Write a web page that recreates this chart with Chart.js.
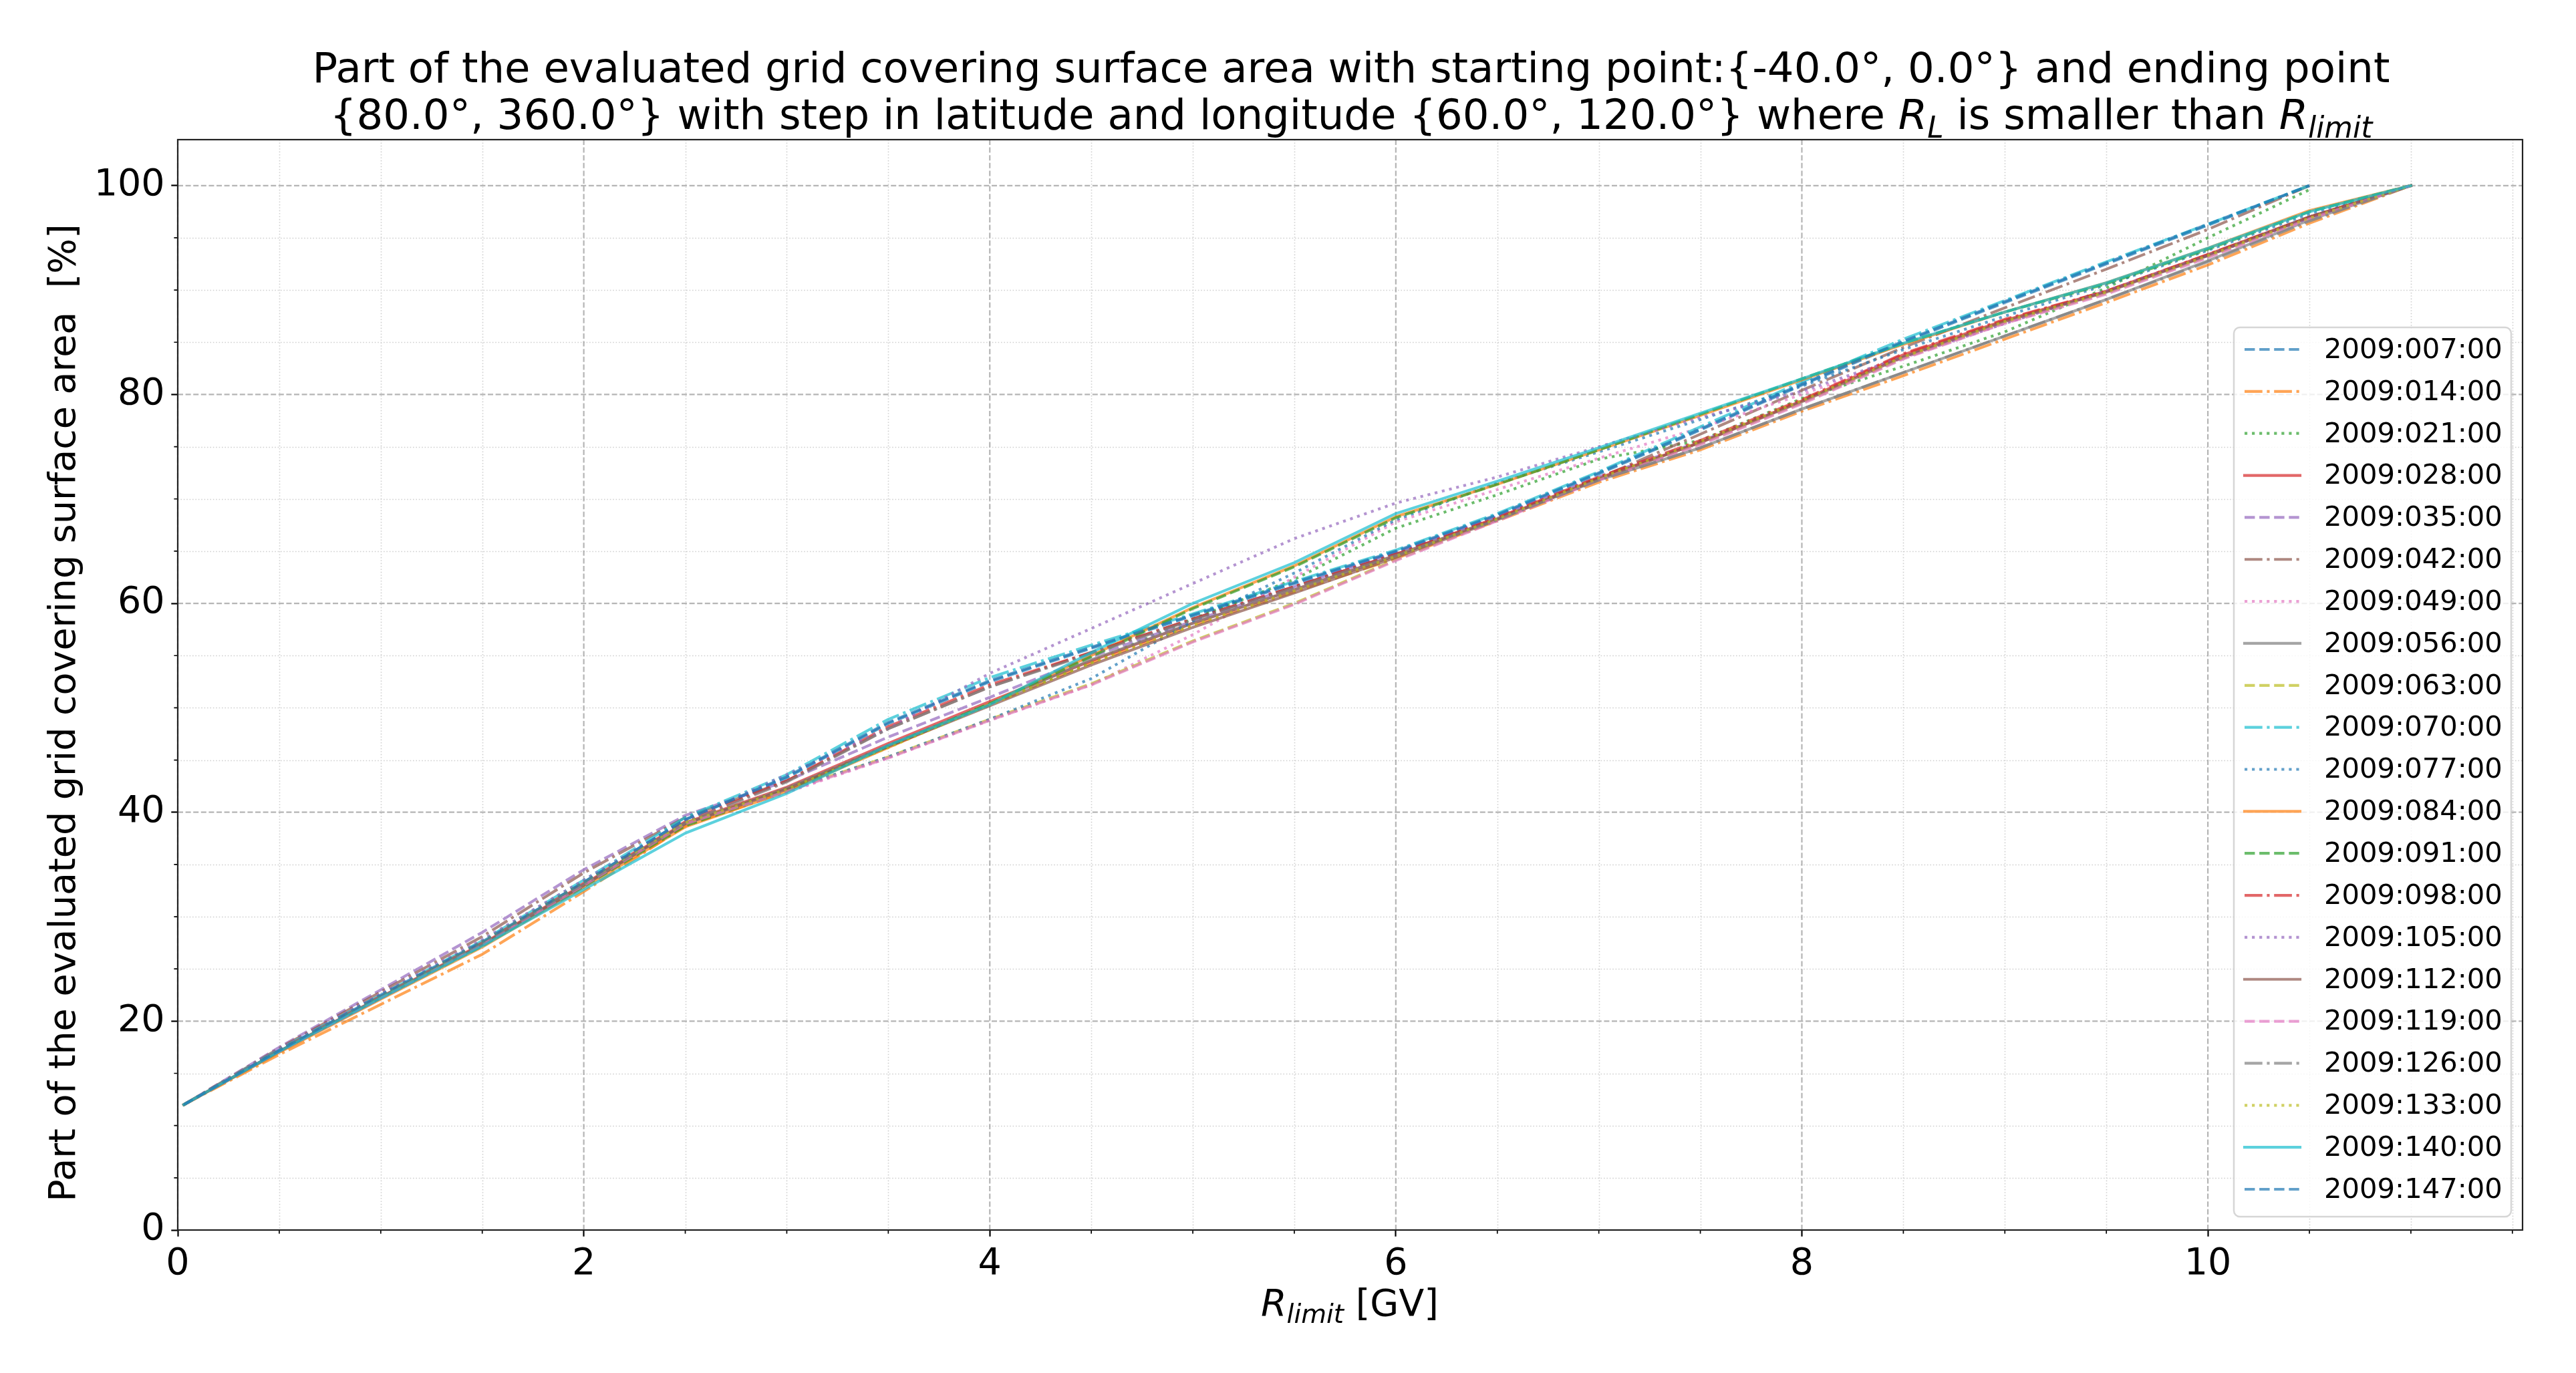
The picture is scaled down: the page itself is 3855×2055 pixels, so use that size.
<!DOCTYPE html>
<html>
<head>
<meta charset="utf-8">
<script src="https://cdn.jsdelivr.net/npm/chart.js@4.4.1/dist/chart.umd.min.js"></script>
<style>
  html, body { margin: 0; padding: 0; background: #fff; overflow: hidden; }
  #wrap { width: 3855px; height: 2055px; }
</style>
</head>
<body>
<div id="wrap"><canvas id="chart" width="3855" height="2055"></canvas></div>
<script>
"use strict";

// R_limit [GV], shared by all series
var rLimit = [0.03, 0.5, 1, 1.5, 2, 2.5, 3, 3.5, 4, 4.5, 5, 5.5, 6, 6.5, 7, 7.5, 8, 8.5, 9, 9.5, 10, 10.5, 11];

var seriesNames = ["2009:007:00", "2009:014:00", "2009:021:00", "2009:028:00", "2009:035:00", "2009:042:00",
    "2009:049:00", "2009:056:00", "2009:063:00", "2009:070:00", "2009:077:00", "2009:084:00", "2009:091:00",
    "2009:098:00", "2009:105:00", "2009:112:00", "2009:119:00", "2009:126:00", "2009:133:00", "2009:140:00",
    "2009:147:00"];

// percent of grid area
var s007 = [12.0, 17.2, 22.4, 27.5, 33.3, 39.3, 43.3, 48.5, 52.5, 55.7, 58.8, 61.9, 64.9, 68.4, 72.4, 76.6, 80.9, 85.0, 88.8, 92.5, 96.2, 100, null];
var s014 = [12.0, 16.8, 21.6, 26.4, 32.4, 38.7, 42.0, 46.3, 50.3, 54.3, 57.9, 61.1, 64.3, 67.9, 71.6, 74.7, 78.4, 81.8, 85.3, 88.8, 92.4, 96.4, 100];
var s021 = [12.0, 17.1, 22.3, 27.4, 33.1, 39.0, 42.3, 46.4, 50.4, 54.4, 58.5, 62.3, 67.2, 70.4, 73.8, 75.6, 79.6, 82.7, 86.0, 90.2, 95.0, 99.6, null];
var s028 = [12.0, 17.1, 22.3, 27.4, 33.1, 39.0, 42.4, 46.6, 50.6, 54.5, 58.1, 61.3, 64.6, 68.1, 72.0, 75.4, 79.4, 83.8, 87.1, 89.9, 93.4, 97.0, 100];
var s035 = [12.0, 17.5, 23.0, 28.5, 34.5, 39.7, 43.0, 47.2, 51.0, 54.9, 58.3, 61.6, 64.9, 68.3, 72.1, 75.5, 79.3, 83.5, 86.9, 89.8, 93.3, 97.0, 100];
var s042 = [12.0, 17.4, 22.8, 28.1, 34.2, 39.5, 43.0, 48.0, 52.0, 55.3, 58.5, 61.6, 64.7, 68.1, 72.0, 76.2, 80.4, 84.5, 88.3, 92.0, 95.8, 100, null];
var s049 = [12.0, 17.2, 22.3, 27.4, 33.0, 38.9, 41.9, 45.2, 48.8, 52.2, 57.0, 62.5, 67.8, 70.9, 73.9, 76.8, 80.0, 83.5, 86.8, 89.9, 93.3, 96.9, 100];
var s056 = [12.0, 17.1, 22.3, 27.3, 33.0, 38.9, 42.3, 46.4, 50.4, 54.6, 58.1, 61.3, 64.6, 68.1, 71.8, 74.9, 78.6, 82.1, 85.6, 89.1, 92.8, 96.7, 100];
var s063 = [12.0, 17.1, 22.3, 27.5, 33.2, 39.0, 42.1, 45.3, 48.9, 52.3, 56.4, 60.0, 64.2, 68.0, 71.9, 75.3, 79.2, 83.5, 86.9, 89.7, 93.2, 96.9, 100];
var s070 = [12.0, 17.3, 22.5, 27.7, 33.5, 39.5, 43.6, 48.9, 52.9, 56.0, 59.0, 62.1, 65.1, 68.6, 72.6, 76.9, 81.2, 85.3, 89.0, 92.7, 96.3, 100, null];
var s077 = [12.0, 17.2, 22.4, 27.5, 33.1, 39.0, 42.1, 45.3, 48.9, 52.8, 58.3, 62.9, 68.0, 71.5, 74.5, 77.6, 80.8, 84.3, 87.5, 90.5, 93.8, 97.3, 100];
var s084 = [12.0, 17.0, 22.1, 27.1, 32.8, 38.6, 42.0, 46.2, 50.4, 55.0, 59.6, 63.6, 68.3, 71.4, 74.7, 78.0, 81.4, 84.8, 87.9, 90.7, 94.0, 97.6, 100];
var s091 = [12.0, 17.1, 22.2, 27.2, 32.9, 38.7, 42.1, 46.3, 50.4, 54.9, 59.5, 63.5, 68.2, 71.4, 74.7, 78.1, 81.5, 84.9, 87.9, 90.6, 93.9, 97.5, 100];
var s098 = [12.0, 17.2, 22.4, 27.5, 33.2, 39.1, 43.0, 48.2, 52.2, 55.3, 58.5, 61.6, 64.7, 68.2, 72.1, 75.6, 79.5, 83.9, 87.2, 89.9, 93.4, 97.0, 100];
var s105 = [12.0, 17.3, 22.6, 27.8, 33.5, 39.2, 43.6, 48.0, 53.3, 57.6, 61.9, 66.2, 69.6, 72.1, 75.0, 77.8, 80.3, 83.6, 86.8, 89.9, 93.3, 96.9, 100];
var s112 = [12.0, 17.1, 22.2, 27.3, 33.0, 38.9, 42.2, 46.3, 50.2, 54.1, 57.7, 61.0, 64.4, 68.0, 71.9, 75.4, 79.3, 83.6, 87.0, 89.8, 93.3, 97.0, 100];
var s119 = [12.0, 17.1, 22.2, 27.3, 33.0, 38.9, 42.0, 45.2, 48.8, 52.2, 56.3, 59.9, 64.1, 67.9, 71.8, 75.2, 79.1, 83.4, 86.8, 89.6, 93.1, 96.8, 100];
var s126 = [12.0, 17.2, 22.4, 27.5, 33.1, 39.0, 42.9, 48.0, 52.0, 55.2, 58.4, 61.5, 64.6, 68.0, 71.8, 74.9, 78.6, 82.1, 85.6, 89.1, 92.7, 96.6, 100];
var s133 = [12.0, 17.2, 22.4, 27.6, 33.3, 39.0, 42.2, 46.2, 50.3, 54.3, 57.9, 61.2, 64.5, 68.1, 72.0, 75.5, 79.4, 83.6, 87.0, 89.8, 93.3, 96.9, 100];
var s140 = [12.0, 17.1, 22.2, 27.2, 32.6, 38.0, 41.8, 46.4, 50.3, 55.3, 60.0, 63.9, 68.6, 71.7, 74.9, 78.2, 81.5, 84.9, 87.9, 90.7, 94.0, 97.5, 100];
var s147 = [12.0, 17.2, 22.5, 27.6, 33.3, 39.3, 43.4, 48.6, 52.6, 55.8, 58.9, 62.0, 65.0, 68.5, 72.5, 76.7, 81.0, 85.1, 88.9, 92.6, 96.3, 100, null];

var allSeries = [s007, s014, s021, s028, s035, s042, s049, s056, s063, s070, s077,
    s084, s091, s098, s105, s112, s119, s126, s133, s140, s147];

var xTicks = [0, 2, 4, 6, 8, 10];
var yTicks = [0, 20, 40, 60, 80, 100];

// matplotlib look
var tab10 = ['#1f77b4', '#ff7f0e', '#2ca02c', '#d62728', '#9467bd', '#8c564b', '#e377c2', '#7f7f7f', '#bcbd22', '#17becf'];
var LW = 4.17;
var dashStyles = [[3.7 * LW, 1.6 * LW], [6.4 * LW, 1.6 * LW, 1 * LW, 1.6 * LW], [1 * LW, 1.65 * LW], []];
var FONT = '"DejaVu Sans", sans-serif';

function rgba(hex, a) {
    var n = parseInt(hex.slice(1), 16);
    return 'rgba(' + (n >> 16) + ',' + ((n >> 8) & 255) + ',' + (n & 255) + ',' + a + ')';
}

function lineColor(i) { return rgba(tab10[i % 10], 0.7); }

// text with italic / subscript parts (mathtext stand-in)
function segFont(s, size) {
    return (s.it ? 'italic ' : '') + (s.sub ? size * 0.7 : size) + 'px ' + FONT;
}
function drawRich(ctx, segs, x, y, size) {
    var total = 0;
    segs.forEach(function (s) {
        ctx.font = segFont(s, size);
        s.w = ctx.measureText(s.t).width;
        total += s.w;
    });
    var cx = x - total / 2;
    segs.forEach(function (s) {
        ctx.font = segFont(s, size);
        ctx.fillText(s.t, cx, y + (s.sub ? size * 0.2 : 0));
        cx += s.w;
    });
}

var datasets = allSeries.map(function (ys, i) {
    var pts = [];
    ys.forEach(function (y, k) {
        if (y !== null) pts.push({x: rLimit[k], y: y});
    });
    return {
        label: seriesNames[i],
        data: pts,
        borderColor: lineColor(i),
        backgroundColor: lineColor(i),
        borderWidth: LW,
        borderDash: dashStyles[i % 4],
        borderCapStyle: dashStyles[i % 4].length ? 'butt' : 'square',
        borderJoinStyle: 'round',
        pointRadius: 0,
        tension: 0,
        fill: false,
        order: allSeries.length - i
    };
});

var decor = {
    id: 'decor',
    beforeDraw: function (chart) {
        var ctx = chart.ctx;
        ctx.save();
        ctx.fillStyle = '#fff';
        ctx.fillRect(0, 0, chart.width, chart.height);
        ctx.restore();
    },
    beforeDatasetsDraw: function (chart) {
        var ctx = chart.ctx, a = chart.chartArea, sx = chart.scales.x, sy = chart.scales.y;
        var k, p;
        ctx.save();
        // minor grid
        ctx.strokeStyle = 'rgba(150,150,150,0.45)';
        ctx.lineWidth = 1.6;
        ctx.setLineDash([1.6, 2.8]);
        ctx.beginPath();
        for (k = 1; k * 0.5 < sx.max; k++) {
            if (k % 4 === 0) continue;
            p = Math.round(sx.getPixelForValue(k * 0.5)) + 0.5;
            ctx.moveTo(p, a.top); ctx.lineTo(p, a.bottom);
        }
        for (k = 1; k * 5 < sy.max; k++) {
            if (k % 4 === 0) continue;
            p = Math.round(sy.getPixelForValue(k * 5)) + 0.5;
            ctx.moveTo(a.left, p); ctx.lineTo(a.right, p);
        }
        ctx.stroke();
        // major grid
        ctx.strokeStyle = 'rgba(150,150,150,0.7)';
        ctx.lineWidth = 2.2;
        ctx.setLineDash([8, 3.6]);
        ctx.beginPath();
        xTicks.forEach(function (v) {
            var q = sx.getPixelForValue(v);
            ctx.moveTo(q, a.top); ctx.lineTo(q, a.bottom);
        });
        yTicks.forEach(function (v) {
            var q = sy.getPixelForValue(v);
            ctx.moveTo(a.left, q); ctx.lineTo(a.right, q);
        });
        ctx.stroke();
        ctx.restore();
    },
    afterDatasetsDraw: function (chart) {
        var ctx = chart.ctx, a = chart.chartArea, sx = chart.scales.x, sy = chart.scales.y;
        var k, p;
        ctx.save();
        // minor ticks
        ctx.strokeStyle = '#000';
        ctx.lineWidth = 1.7;
        ctx.setLineDash([]);
        ctx.beginPath();
        for (k = 1; k * 0.5 < sx.max; k++) {
            if (k % 4 === 0) continue;
            p = sx.getPixelForValue(k * 0.5);
            ctx.moveTo(p, a.bottom); ctx.lineTo(p, a.bottom + 5.6);
        }
        for (k = 1; k * 5 < sy.max; k++) {
            if (k % 4 === 0) continue;
            p = sy.getPixelForValue(k * 5);
            ctx.moveTo(a.left, p); ctx.lineTo(a.left - 5.6, p);
        }
        ctx.stroke();
        // spines
        ctx.strokeStyle = '#222';
        ctx.lineWidth = 2.2;
        ctx.strokeRect(a.left, a.top, a.right - a.left, a.bottom - a.top);

        // legend
        var bx = 3343, by = 490, bw = 415, bh = 1331, r = 9;
        ctx.beginPath();
        ctx.moveTo(bx + r, by);
        ctx.arcTo(bx + bw, by, bx + bw, by + bh, r);
        ctx.arcTo(bx + bw, by + bh, bx, by + bh, r);
        ctx.arcTo(bx, by + bh, bx, by, r);
        ctx.arcTo(bx, by, bx + bw, by, r);
        ctx.closePath();
        ctx.fillStyle = 'rgba(255,255,255,0.8)';
        ctx.fill();
        ctx.strokeStyle = 'rgba(204,204,204,0.8)';
        ctx.lineWidth = 2.5;
        ctx.stroke();

        ctx.font = '41.7px ' + FONT;
        ctx.textBaseline = 'middle';
        ctx.textAlign = 'left';
        seriesNames.forEach(function (name, i) {
            var cy = 523 + i * 62.85;
            var d = dashStyles[i % 4];
            ctx.strokeStyle = lineColor(i);
            ctx.lineWidth = LW;
            ctx.setLineDash(d);
            ctx.lineCap = d.length ? 'butt' : 'square';
            ctx.beginPath();
            ctx.moveTo(3359, cy);
            ctx.lineTo(3442, cy);
            ctx.stroke();
            ctx.fillStyle = '#000';
            ctx.fillText(name, 3478, cy + 2);
        });
        ctx.restore();
    },
    afterDraw: function (chart) {
        var ctx = chart.ctx;
        var size = 55.5, titleSize = 62.5;
        ctx.save();
        ctx.fillStyle = '#000';
        ctx.textBaseline = 'alphabetic';
        ctx.textAlign = 'left';
        drawRich(ctx, [{t: 'Part of the evaluated grid covering surface area with starting point:{-40.0\u00b0, 0.0\u00b0} and ending point'}], 2022, 123, titleSize);
        drawRich(ctx, [
            {t: '{80.0\u00b0, 360.0\u00b0} with step in latitude and longitude {60.0\u00b0, 120.0\u00b0} where '},
            {t: 'R', it: true}, {t: 'L', it: true, sub: true},
            {t: ' is smaller than '},
            {t: 'R', it: true}, {t: 'limit', it: true, sub: true}
        ], 2022, 193, titleSize);
        // x axis label
        drawRich(ctx, [{t: 'R', it: true}, {t: 'limit', it: true, sub: true}, {t: ' [GV]'}], 2020, 1969, size);
        // y axis label
        ctx.translate(98, 1067);
        ctx.rotate(-Math.PI / 2);
        ctx.textAlign = 'center';
        ctx.textBaseline = 'middle';
        ctx.font = size + 'px ' + FONT;
        ctx.fillText('Part of the evaluated grid covering surface area  [%]', 0, 0);
        ctx.restore();
    }
};

Chart.defaults.font.family = FONT;

new Chart(document.getElementById('chart').getContext('2d'), {
    type: 'line',
    data: {datasets: datasets},
    options: {
        responsive: false,
        animation: false,
        devicePixelRatio: 1,
        layout: {padding: {top: 209, right: 80, bottom: 0, left: 0}},
        plugins: {
            legend: {display: false},
            title: {display: false},
            tooltip: {enabled: false}
        },
        scales: {
            x: {
                type: 'linear',
                min: 0,
                max: 11.55,
                afterBuildTicks: function (scale) {
                    scale.ticks = xTicks.map(function (v) { return {value: v}; });
                },
                afterFit: function (scale) { scale.height = 214; },
                ticks: {color: '#000', font: {size: 55.5}, padding: 9, maxRotation: 0, autoSkip: false},
                grid: {drawOnChartArea: false, drawTicks: true, tickLength: 9.7, tickWidth: 2.2, tickColor: '#000'},
                border: {display: false}
            },
            y: {
                min: 0,
                max: 104.4,
                afterBuildTicks: function (scale) {
                    scale.ticks = yTicks.map(function (v) { return {value: v}; });
                },
                afterFit: function (scale) { scale.width = 266; },
                ticks: {color: '#000', font: {size: 55.5}, padding: 9.7, autoSkip: false},
                grid: {drawOnChartArea: false, drawTicks: true, tickLength: 9.7, tickWidth: 2.2, tickColor: '#000'},
                border: {display: false}
            }
        }
    },
    plugins: [decor]
});
</script>
</body>
</html>
